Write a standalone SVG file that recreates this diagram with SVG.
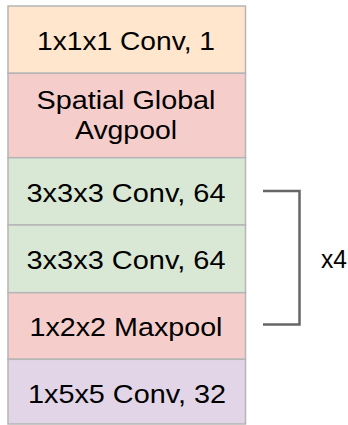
<svg xmlns="http://www.w3.org/2000/svg" width="348" height="425" viewBox="0 0 348 425">
<style>
.box{stroke:#b5b5b5;stroke-width:1.5}
.t{font-family:"Liberation Sans",Arial,Helvetica,sans-serif;font-size:25px;fill:#000;text-anchor:middle}
.br{fill:none;stroke:#666;stroke-width:2.5}
</style>
<rect width="348" height="425" fill="#fff"/>
<g id="conv1x1x1">
<rect class="box" x="8" y="6" width="237.5" height="67.3" fill="#ffe6cc"/>
<text class="t" x="126" y="49.5" textLength="178" lengthAdjust="spacingAndGlyphs">1x1x1 Conv, 1</text>
</g>
<g id="avgpool">
<rect class="box" x="8" y="73.3" width="237.5" height="84.4" fill="#f5cecb"/>
<text class="t" x="126" y="108.5" textLength="179" lengthAdjust="spacingAndGlyphs">Spatial Global</text>
<text class="t" x="126" y="138.5" textLength="102" lengthAdjust="spacingAndGlyphs">Avgpool</text>
</g>
<g id="conv3a">
<rect class="box" x="8" y="157.7" width="237.5" height="67.3" fill="#d9e8d5"/>
<text class="t" x="126" y="202" textLength="199" lengthAdjust="spacingAndGlyphs">3x3x3 Conv, 64</text>
</g>
<g id="conv3b">
<rect class="box" x="8" y="225" width="237.5" height="67.7" fill="#d9e8d5"/>
<text class="t" x="126" y="268.5" textLength="199" lengthAdjust="spacingAndGlyphs">3x3x3 Conv, 64</text>
</g>
<g id="maxpool">
<rect class="box" x="8" y="292.7" width="237.5" height="66.6" fill="#f5cecb"/>
<text class="t" x="126" y="335.5" textLength="193" lengthAdjust="spacingAndGlyphs">1x2x2 Maxpool</text>
</g>
<g id="conv1x5x5">
<rect class="box" x="8" y="359.3" width="237.5" height="64.7" fill="#e1d5e7"/>
<text class="t" x="127" y="403.3" textLength="198" lengthAdjust="spacingAndGlyphs">1x5x5 Conv, 32</text>
</g>
<g id="connectors">
<polyline class="br" points="263,191 299.5,191 299.5,324.5 263,324.5"/>
</g>
<g id="repeat">
<text class="t" x="334" y="268" textLength="26" lengthAdjust="spacingAndGlyphs">x4</text>
</g>
</svg>
